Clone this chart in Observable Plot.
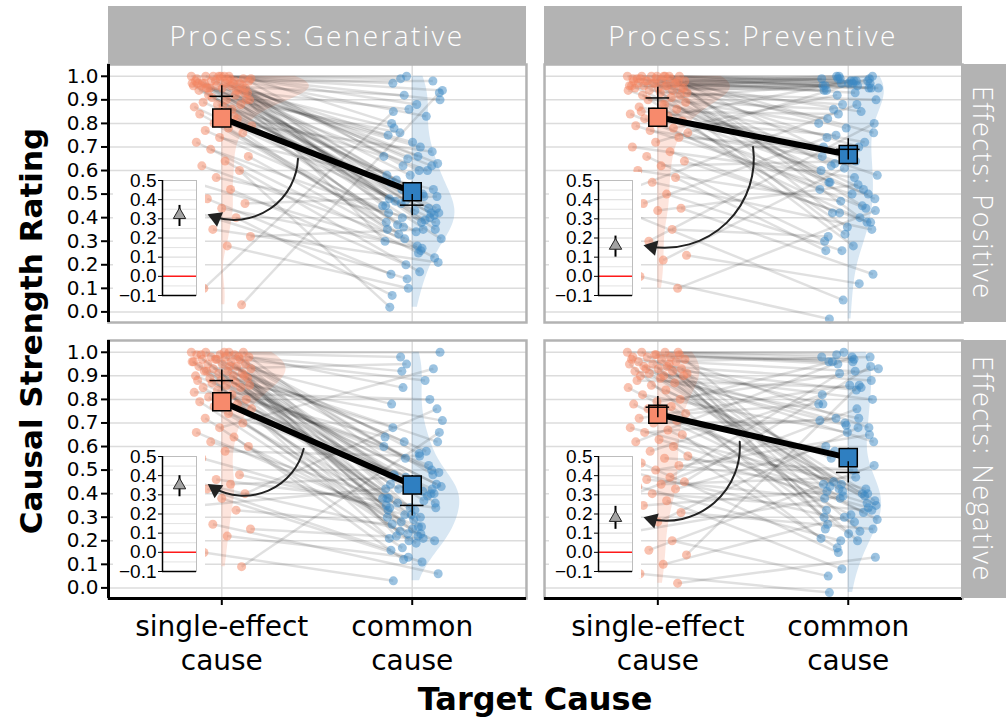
<!DOCTYPE html>
<html><head><meta charset="utf-8">
<script src="https://cdn.jsdelivr.net/npm/d3@7"></script>
<script src="https://cdn.jsdelivr.net/npm/@observablehq/plot@0.6"></script>
<style>
body{margin:0;background:#fff;}
#wrap{position:relative;width:1006px;height:722px;overflow:hidden;font-family:"Open Sans",sans-serif;}
#wrap > svg{position:absolute;left:0;top:0;}
.inset{position:absolute;}
.strip{position:absolute;background:#b3b3b3;color:#fff;font-weight:300;display:flex;align-items:center;justify-content:center;white-space:nowrap;}
.stripTop{font-size:28px;letter-spacing:2.4px;}
.stripRight{font-size:27px;letter-spacing:1.6px;writing-mode:vertical-rl;}
.title{position:absolute;font-family:"DejaVu Sans",sans-serif;font-weight:700;white-space:nowrap;color:#000;}
</style></head>
<body><div id="wrap"></div>
<script>
// ---------- data ----------
const processes = ["Generative", "Preventive"];
const effects = ["Positive", "Negative"];
const causeLabels = ["single-effect\ncause", "common\ncause"];
const yTicks = [0, 0.1, 0.2, 0.3, 0.4, 0.5, 0.6, 0.7, 0.8, 0.9, 1.0];
const insetTicks = [-0.1, 0, 0.1, 0.2, 0.3, 0.4, 0.5];
const insetGrid = [-0.05, 0.05, 0.1, 0.15, 0.2, 0.25, 0.3, 0.35, 0.4, 0.45];

const singleTL = [1.0,1.0,1.0,0.99,0.99,0.99,0.98,0.98,0.98,0.97, 0.97,0.97,0.96,0.96,0.96,0.95,0.95,0.95,0.94,0.94, 1.0,0.99,0.98,0.97,0.96,1.0,0.98,0.97,0.95,0.93, 1.0,0.96,0.94,0.98,0.97,0.99,0.95,0.93,1.0,0.97, 0.92,0.91,0.9,0.9,0.89,0.88,0.88,0.87,0.86,0.92,0.9,0.87, 0.84,0.82,0.8,0.79,0.78,0.77,0.76,0.74,0.72,0.83, 0.69,0.66,0.64,0.62,0.6,0.57,0.55,0.52, 0.48,0.46,0.44,0.42,0.4,0.35,0.32, 0.28,0.1,0.03];
const commonTL = [0.99,0.45,0.62,0.88,0.52,0.58,0.98,0.66,0.62,0.75, 0.41,0.6,0.92,0.48,0.35,0.7,0.47,0.55,0.44,0.38, 1.0,0.8,0.63,0.5,0.65,0.97,0.42,0.49,0.86,0.78, 0.9,0.39,0.58,0.47,0.31,0.83,0.53,0.56,0.94,0.6, 0.72,0.37,0.45,0.44,0.5,0.33,0.66,0.4,0.43,0.76,0.3,0.42, 0.34,0.46,0.38,0.68,0.28,0.4,0.35,0.52,0.25,0.36, 0.42,0.23,0.17,0.31,0.02,0.38,0.26,0.2, 0.16,0.49,0.27,0.14,0.07,0.21,0.35, 0.1,0.85,0.93];

const singleTR = [1.0,1.0,1.0,1.0,0.99,0.99,0.99,0.98,0.98,0.98, 0.97,0.97,0.97,0.96,0.96,0.96,0.95,0.95,0.95,0.94, 0.94,0.93,1.0,0.99,0.98,0.97,0.96,1.0,0.98,0.95, 0.93,0.99,0.97,1.0,0.94,0.96,0.92,0.92,1.0,0.98, 0.91,0.9,0.89,0.88,0.87,0.86,0.85,0.84,0.83,0.82,0.81,0.8,0.79,0.78,0.77,0.76,0.88,0.85, 0.74,0.72,0.7,0.68,0.66,0.64,0.62,0.6,0.57,0.55,0.52,0.5, 0.46,0.44,0.43,0.41,0.35,0.3, 0.24,0.22,0.15,0.1];
const commonTR = [1.0,0.99,0.98,0.97,0.99,0.96,0.95,0.98,1.0,0.94, 0.97,0.93,0.99,0.96,0.95,0.98,0.97,0.94,1.0,0.96, 0.88,0.82,0.76,0.7,0.65,0.55,0.48,0.4,0.33,0.55, 0.9,0.85,0.78,0.62,0.58,0.45,0.36,0.42,0.95,0.52, 0.97,0.86,0.8,0.72,0.68,0.63,0.52,0.44,0.98,0.75,0.6,0.38,0.5,0.92,0.66,0.5,0.28,0.84, 0.7,0.99,0.57,0.42,0.3,0.38,0.64,0.47,0.26,0.35,0.88,0.26, 0.74,0.16,0.54,0.05,0.32,0.8, 0.12,0.61,-0.03,0.43];

const singleBL = [1.0,1.0,1.0,1.0,0.99,0.99,0.99,0.98,0.98,0.98, 0.97,0.97,0.97,0.96,0.96,0.95,0.95,0.95,0.94,0.94, 0.93,0.93,0.92,0.92,0.91,0.91,0.9,0.9,0.89,0.89, 1.0,0.99,0.98,0.97,0.96,0.94,0.92,0.9,0.88,0.88, 0.87,0.87,0.86,0.86,0.85,0.85,0.84,0.83,0.82,0.81,0.8,0.8,0.79,0.78, 0.77,0.76,0.74,0.72,0.7,0.68,0.66,0.64,0.62,0.6,0.58,0.55, 0.48,0.46,0.45,0.44,0.42,0.4,0.38,0.35,0.33, 0.27,0.25,0.22,0.15,0.09];
const commonBL = [0.98,0.42,0.5,0.45,0.92,0.38,0.48,0.22,0.85,0.33, 0.4,0.57,0.62,0.21,0.36,0.3,0.55,0.44,0.44,0.26, 0.95,0.78,0.62,0.41,0.23,0.68,0.49,0.37,0.2,0.48, 1.0,0.88,0.34,0.47,0.43,0.58,0.31,0.22,0.71,0.39, 0.25,0.36,0.38,0.52,0.29,0.42,0.6,0.8,0.33,0.24,0.64,0.4,0.19,0.28, 0.35,0.42,0.46,0.17,0.3,0.93,0.26,0.12,0.38,0.2,0.56,0.31, 0.34,0.34,0.23,0.47,0.16,0.76,0.11,0.43,0.27, 0.06,0.21,0.13,0.03,0.66];

const singleBR = [1.0,1.0,1.0,0.99,0.99,0.98,0.98,0.98,0.97,0.97, 0.96,0.96,0.95,0.95,0.94,0.94,0.93,0.93,0.92,0.92, 0.91,0.91,0.9,0.9,1.0,0.99,0.97,0.95,0.93,0.9, 0.89,0.88,0.87,0.86,0.85,0.84,0.82,0.8,0.79,0.78,0.77,0.76, 0.74,0.73,0.72,0.71,0.7,0.68,0.67,0.66,0.65,0.63,0.62,0.6, 0.58,0.56,0.55,0.53,0.52,0.5,0.49,0.47,0.46, 0.45,0.44,0.43,0.42,0.4,0.39,0.37,0.35,0.32, 0.28,0.24,0.2,0.16, 0.14,0.1,0.06,0.02];
const commonBR = [0.99,0.98,0.4,0.96,0.95,0.78,0.68,0.97,0.42,0.3, 0.98,0.92,0.38,0.25,0.88,0.84,0.44,0.33,0.8,0.2, 0.41,0.27,0.62,0.72,1.0,0.96,0.37,0.24,0.7,0.43, 0.35,0.85,0.69,0.55,0.29,0.4,0.66,0.96,0.93,0.32,0.23,0.45, 0.78,0.39,0.86,0.58,0.71,0.42,0.31,0.72,0.21,0.36,0.98,0.17, 0.82,0.34,0.5,0.15,0.44,0.65,0.28,0.91,0.38, 0.94,0.47,0.2,0.6,0.33,0.76,0.08,0.41,0.25, 0.68,0.39,0.05,0.52, 0.86,0.3,-0.02,0.13];

// summaries (TL, TR, BL, BR)
const meanSingle = [0.823, 0.826, 0.79, 0.737];
const meanCommon = [0.51, 0.668, 0.437, 0.553];
const medianSingle = [0.915, 0.908, 0.88, 0.767];
const medianCommon = [0.453, 0.69, 0.35, 0.49];
const diffMean = [0.32, 0.16, 0.35, 0.18];
const diffLo = [0.26, 0.10, 0.29, 0.12];
const diffHi = [0.37, 0.21, 0.40, 0.24];
const arrowFrom = [[1.40, 0.65], [1.50, 0.70], [1.43, 0.59], [1.43, 0.62]];

// ---------- layout constants ----------
const W = 1006, H = 722;
const mL = 108, mR = 44, mT = 64, mB = 124;
const panelLeft = [108, 544], panelTop = [64, 340];
const panelH = 258, panelW = 418;
const yDom = [-0.045, 1.05];
const xDom = [0.405, 2.6];
const pxX = panelW / (xDom[1] - xDom[0]);
const pxY = panelH / (yDom[1] - yDom[0]);
const BEND = 55;
const ORANGE = "#f4845f", BLUE = "#3a87c4";
const SQ_O = "#f78a6c", SQ_B = "#2f7fc1";

const panels = [
  {fx: processes[0], fy: effects[0], s: singleTL, c: commonTL},
  {fx: processes[1], fy: effects[0], s: singleTR, c: commonTR},
  {fx: processes[0], fy: effects[1], s: singleBL, c: commonBL},
  {fx: processes[1], fy: effects[1], s: singleBR, c: commonBR}
];

// deterministic horizontal spread of points (layout only)
function jit(i, g) {
  const a = g ? 0.7548776662 : 0.6180339887;
  return (((i * a + 0.31 * g) % 1) - 0.5) * 0.32;
}

function kde(vals) {
  const v = vals.slice().sort(d3.ascending);
  const n = v.length;
  const sd = d3.deviation(v);
  const iqr = d3.quantileSorted(v, 0.75) - d3.quantileSorted(v, 0.25);
  const h = 0.9 * Math.min(sd, iqr / 1.34) * Math.pow(n, -0.2);
  const lo = v[0], hi = v[n - 1];
  const out = [];
  for (let k = 0; k <= 120; k++) {
    const y = lo + (hi - lo) * k / 120;
    const d = d3.mean(v, t => Math.exp(-0.5 * ((y - t) / h) ** 2)) / (h * Math.sqrt(2 * Math.PI));
    out.push({y, d});
  }
  return out;
}

const ptsS = [], ptsC = [], links = [], vioS = [], vioC = [], summ = [], crossH = [], crossV = [], arrows = [], heads = [];
const dens = [];
panels.forEach((p, k) => {
  p.s.forEach((v, i) => {
    const xs = 1 + jit(i, 0), xc = 2 + jit(i, 1);
    ptsS.push({fx: p.fx, fy: p.fy, x: xs, y: v});
    ptsC.push({fx: p.fx, fy: p.fy, x: xc, y: p.c[i]});
    links.push({fx: p.fx, fy: p.fy, x1: xs, y1: v, x2: xc, y2: p.c[i]});
  });
  dens.push({k, g: 0, d: kde(p.s)});
  dens.push({k, g: 1, d: kde(p.c)});
  summ.push({fx: p.fx, fy: p.fy, x: 1, y: meanSingle[k], g: 0});
  summ.push({fx: p.fx, fy: p.fy, x: 2, y: meanCommon[k], g: 1});
  [[1, medianSingle[k]], [2, medianCommon[k]]].forEach(([x, m]) => {
    crossH.push({fx: p.fx, fy: p.fy, x1: x - 0.062, x2: x + 0.062, y: m});
    crossV.push({fx: p.fx, fy: p.fy, x, y1: m - 0.045, y2: m + 0.045});
  });
  // arrow end: level of the inset's mean difference, expressed in the panel's y units
  const pEnd = 116 + (0.5 - diffMean[k]) / 0.6 * 115;
  const a = {fx: p.fx, fy: p.fy, x1: arrowFrom[k][0], y1: arrowFrom[k][1], x2: 0.935, y2: yDom[1] - pEnd / pxY};
  arrows.push(a);
  // filled arrow head: direction of the curve at its end (chord angle + bend), in screen degrees
  const dxp = (a.x2 - a.x1) * pxX, dyp = -(a.y2 - a.y1) * pxY;
  const ang = Math.atan2(dyp, dxp) * 180 / Math.PI + BEND;
  const t = 7; // px from symbol centre to its tip
  const r = ang * Math.PI / 180;
  heads.push({fx: p.fx, fy: p.fy, x: a.x2 - Math.cos(r) * t / pxX, y: a.y2 + Math.sin(r) * t / pxY, rot: ang + 90});
});
const maxD = d3.max(dens, o => d3.max(o.d, e => e.d));
const wScale = 0.46 / maxD;
dens.forEach(o => {
  const p = panels[o.k];
  const cx = o.g ? 2 : 1;
  o.d.forEach(e => (o.g ? vioC : vioS).push({fx: p.fx, fy: p.fy, y: e.y, x1: cx, x2: cx + e.d * wScale}));
});
const ciRows = summ.map(d => ({...d, y1: d.y - 0.04, y2: d.y + 0.04}));
const leftRows = [{fx: processes[0], fy: effects[0]}, {fx: processes[0], fy: effects[1]}];
const bottomRows = [{fx: processes[0], fy: effects[1]}, {fx: processes[1], fy: effects[1]}];

const main = Plot.plot({
  width: W, height: H,
  marginLeft: mL, marginRight: mR, marginTop: mT, marginBottom: mB,
  style: {fontFamily: "'Open Sans', sans-serif", color: "#000", background: "transparent", overflow: "visible"},
  fx: {domain: processes, paddingInner: 0.0414, paddingOuter: 0, round: false, axis: null, label: null},
  fy: {domain: effects, paddingInner: 0.0652, paddingOuter: 0, round: false, axis: null, label: null},
  x: {domain: xDom, axis: null},
  y: {domain: yDom, axis: null},
  marks: [
    Plot.gridY(yTicks, {stroke: "#dcdcdc", strokeOpacity: 1, strokeWidth: 1.5}),
    Plot.gridX([1, 2], {stroke: "#dcdcdc", strokeOpacity: 1, strokeWidth: 1.5}),
    Plot.areaX(vioS, {fx: "fx", fy: "fy", y: "y", x1: "x1", x2: "x2", fill: ORANGE, fillOpacity: 0.22}),
    Plot.areaX(vioC, {fx: "fx", fy: "fy", y: "y", x1: "x1", x2: "x2", fill: BLUE, fillOpacity: 0.2}),
    Plot.link(links, {fx: "fx", fy: "fy", x1: "x1", y1: "y1", x2: "x2", y2: "y2", stroke: "#000", strokeOpacity: 0.12, strokeWidth: 2.5}),
    Plot.dot(ptsS, {fx: "fx", fy: "fy", x: "x", y: "y", r: 4.5, fill: ORANGE, fillOpacity: 0.5}),
    Plot.dot(ptsC, {fx: "fx", fy: "fy", x: "x", y: "y", r: 4.5, fill: BLUE, fillOpacity: 0.5}),
    Plot.ruleX(ciRows, {fx: "fx", fy: "fy", x: "x", y1: "y1", y2: "y2", stroke: "#000", strokeWidth: 1.5}),
    Plot.line(summ, {fx: "fx", fy: "fy", x: "x", y: "y", stroke: "#000", strokeWidth: 6}),
    Plot.dot(summ.filter(d => d.g === 0), {fx: "fx", fy: "fy", x: "x", y: "y", symbol: "square", r: 10.2, fill: SQ_O, stroke: "#000", strokeWidth: 1.5}),
    Plot.dot(summ.filter(d => d.g === 1), {fx: "fx", fy: "fy", x: "x", y: "y", symbol: "square", r: 10.2, fill: SQ_B, stroke: "#000", strokeWidth: 1.5}),
    Plot.ruleY(crossH, {fx: "fx", fy: "fy", y: "y", x1: "x1", x2: "x2", stroke: "#000", strokeWidth: 1.5}),
    Plot.ruleX(crossV, {fx: "fx", fy: "fy", x: "x", y1: "y1", y2: "y2", stroke: "#000", strokeWidth: 1.5}),
    Plot.arrow(arrows, {fx: "fx", fy: "fy", x1: "x1", y1: "y1", x2: "x2", y2: "y2", bend: BEND, stroke: "#222", strokeWidth: 2, headLength: 0, insetEnd: 5}),
    Plot.dot(heads, {fx: "fx", fy: "fy", x: "x", y: "y", symbol: "triangle", r: 5.8, rotate: "rot", fill: "#222"}),
    Plot.frame({stroke: "#b3b3b3", strokeWidth: 2.5}),
    Plot.ruleX(leftRows, {fx: "fx", fy: "fy", x: xDom[0], stroke: "#000", strokeWidth: 3}),
    Plot.ruleY(bottomRows, {fx: "fx", fy: "fy", y: yDom[0], stroke: "#000", strokeWidth: 3}),
    Plot.axisY(yTicks, {tickFormat: d => d.toFixed(1), fontSize: 20, fontFamily: "'DejaVu Sans', sans-serif", tickSize: 7, tickPadding: 3, strokeWidth: 2, label: null}),
    Plot.axisX([1, 2], {tickFormat: d => causeLabels[d - 1], fontSize: 28, fontFamily: "'DejaVu Sans', sans-serif", tickSize: 7, tickPadding: 7, strokeWidth: 2, lineHeight: 1.2, label: null})
  ]
});
const wrap = document.getElementById("wrap");
wrap.appendChild(main);

// insets
const fmt = d3.format(".1f");
panels.forEach((p, k) => {
  const ins = Plot.plot({
    width: 92, height: 130,
    marginLeft: 49, marginRight: 9, marginTop: 8, marginBottom: 7,
    style: {background: "white", fontFamily: "'Liberation Sans', Arial, sans-serif", color: "#000", overflow: "visible"},
    x: {domain: [0, 1], axis: null},
    y: {domain: [-0.1, 0.5], axis: null},
    marks: [
      Plot.gridY(insetTicks.concat(insetGrid), {stroke: "#e2e2e2", strokeOpacity: 1, strokeWidth: 1}),
      Plot.frame({stroke: "#bdbdbd", strokeWidth: 1}),
      Plot.ruleY([0], {stroke: "#ff1a1a", strokeWidth: 1.5}),
      Plot.ruleX([0], {stroke: "#000", strokeWidth: 1.5}),
      Plot.ruleY([-0.1], {stroke: "#000", strokeWidth: 1.5}),
      Plot.axisY(insetTicks, {tickFormat: fmt, fontSize: 19, tickSize: 4, tickPadding: 2, label: null}),
      Plot.ruleX([k], {x: 0.5, y1: i => diffLo[i], y2: i => diffHi[i], stroke: "#000", strokeWidth: 2}),
      Plot.dot([k], {x: 0.5, y: i => diffMean[i], symbol: "triangle", r: 4.6, fill: "#a3a3a3", stroke: "#222", strokeWidth: 1})
    ]
  });
  ins.classList.add("inset");
  const col = processes.indexOf(p.fx), row = effects.indexOf(p.fy);
  ins.style.position = "absolute";
  ins.style.left = (panelLeft[col] + 5) + "px";
  ins.style.top = (panelTop[row] + 108) + "px";
  wrap.appendChild(ins);
});

// strips and titles
function div(cls, text, css) {
  const d = document.createElement("div");
  d.className = cls;
  d.textContent = text;
  Object.assign(d.style, css);
  wrap.appendChild(d);
  return d;
}
processes.forEach((p, i) => div("strip stripTop", "Process: " + p, {left: panelLeft[i] + "px", top: "6px", width: panelW + "px", height: "58px"}));
effects.forEach((e, i) => div("strip stripRight", "Effects: " + e, {left: "961px", top: panelTop[i] + "px", width: "45px", height: panelH + "px"}));
div("title", "Causal Strength Rating", {left: "31px", top: "331px", fontSize: "31px", transform: "translate(-50%,-50%) rotate(-90deg)"});
div("title", "Target Cause", {left: "535px", top: "699px", fontSize: "32px", transform: "translate(-50%,-50%)"});
</script>
</body></html>
